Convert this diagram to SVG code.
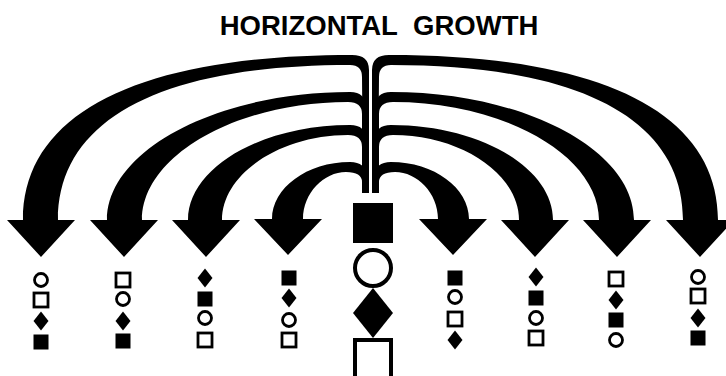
<svg xmlns="http://www.w3.org/2000/svg" xmlns:xlink="http://www.w3.org/1999/xlink" width="726" height="376" viewBox="0 0 726 376">
  <style>
    .title { font-family: "Liberation Sans", Arial, sans-serif; font-weight: bold; font-size: 27.5px; fill: #000; word-spacing: 8px; }
    .arrow { fill: #000; stroke: none; }
    .fill { fill: #000; stroke: none; }
    .open { fill: #fff; stroke: #000; stroke-width: 2.8; }
    .bigopen { fill: #fff; stroke: #000; stroke-width: 4; }
  </style>
  <defs>
    <rect id="fs" x="-7.5" y="-7.5" width="15" height="15" class="fill"/>
    <rect id="os" x="-7" y="-7" width="14" height="14" class="open"/>
    <circle id="ci" cx="0" cy="0" r="6.5" class="open"/>
    <polygon id="di" points="0,-9.5 7.5,0 0,9.5 -7.5,0" class="fill"/>
    <path id="a1" class="arrow" d="M 369,193 L 369,70 Q 369,55 352,55 C 139,55 23,113 23,220 L 7,220 L 41,257 L 75,220 L 58,220 C 58,120 160,65 350,65 Q 362,65 362,77 L 363,193 Z"/>
    <path id="a2" class="arrow" d="M 366,108 Q 366,92 350,92 C 217,92 107,150 107,220 L 90,220 L 124,257 L 158,220 L 142,220 C 142,156 236,102 348,102 Q 362,102 362,114 L 362,193 L 366,193 Z"/>
    <path id="a3" class="arrow" d="M 366,140 Q 366,125 350,125 C 261,125 188,168 188,220 L 172,220 L 206,257 L 240,220 L 222,220 C 222,174 280,135 348,135 Q 362,135 362,147 L 362,193 L 366,193 Z"/>
    <path id="a4" class="arrow" d="M 366,176 Q 366,162 350,162 C 307,162 272,188 272,219 L 254,219 L 288,255 L 322,219 L 303,219 C 303,193 324,172 346,172 Q 362,172 362,182 L 362,193 L 366,193 Z"/>
  </defs>
  <rect width="726" height="376" fill="#fff"/>

  <g id="title">
    <text class="title" x="379" y="35" text-anchor="middle">HORIZONTAL GROWTH</text>
  </g>

  <g id="connectors">
    <use href="#a1"/>
    <use href="#a2"/>
    <use href="#a3"/>
    <use href="#a4"/>
    <use href="#a1" transform="translate(741,0) scale(-1,1)"/>
    <use href="#a2" transform="translate(741,0) scale(-1,1)"/>
    <use href="#a3" transform="translate(741,0) scale(-1,1)"/>
    <use href="#a4" transform="translate(741,0) scale(-1,1)"/>
  </g>

  <g id="center-column">
    <rect x="353" y="203" width="40" height="40" class="fill"/>
    <circle cx="373" cy="268" r="18" class="bigopen"/>
    <polygon points="373,288 393,313 373,338 353,313" class="fill"/>
    <rect x="355" y="340" width="36" height="40" class="bigopen"/>
  </g>

  <g id="column-1">
    <use href="#ci" x="41" y="280"/>
    <use href="#os" x="41" y="300"/>
    <use href="#di" x="41" y="321"/>
    <use href="#fs" x="41" y="342"/>
  </g>
  <g id="column-2">
    <use href="#os" x="123" y="280"/>
    <use href="#ci" x="123" y="299"/>
    <use href="#di" x="123" y="321"/>
    <use href="#fs" x="123" y="341"/>
  </g>
  <g id="column-3">
    <use href="#di" x="205" y="278"/>
    <use href="#fs" x="205" y="299"/>
    <use href="#ci" x="205" y="318"/>
    <use href="#os" x="205" y="340"/>
  </g>
  <g id="column-4">
    <use href="#fs" x="289" y="278"/>
    <use href="#di" x="289" y="298"/>
    <use href="#ci" x="289" y="320"/>
    <use href="#os" x="289" y="340"/>
  </g>
  <g id="column-5">
    <use href="#fs" x="455" y="278"/>
    <use href="#ci" x="455" y="297"/>
    <use href="#os" x="455" y="319"/>
    <use href="#di" x="455" y="340"/>
  </g>
  <g id="column-6">
    <use href="#di" x="536" y="277"/>
    <use href="#fs" x="536" y="298"/>
    <use href="#ci" x="536" y="318"/>
    <use href="#os" x="536" y="338"/>
  </g>
  <g id="column-7">
    <use href="#os" x="616" y="279"/>
    <use href="#di" x="616" y="300"/>
    <use href="#fs" x="616" y="320"/>
    <use href="#ci" x="616" y="340"/>
  </g>
  <g id="column-8">
    <use href="#ci" x="698" y="277"/>
    <use href="#os" x="698" y="296"/>
    <use href="#di" x="698" y="318"/>
    <use href="#fs" x="698" y="338"/>
  </g>
</svg>
